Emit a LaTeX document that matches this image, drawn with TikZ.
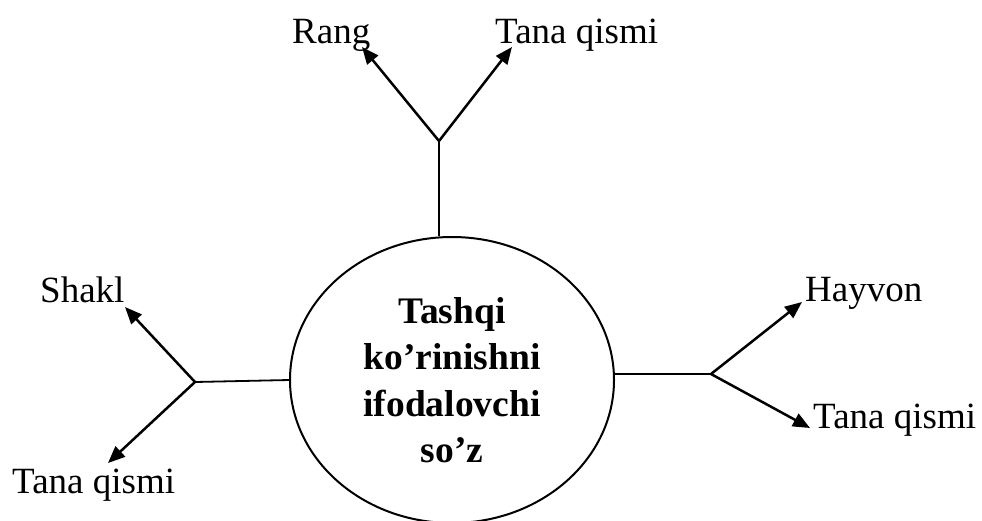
\documentclass[tikz,border=0pt]{standalone}
\usepackage{fontspec}
\setmainfont{Liberation Serif}
\usetikzlibrary{arrows.meta,shapes.geometric}
\tikzset{
  word/.style={inner sep=0pt,anchor=base west,font=\fontsize{37}{44}\selectfont},
  arr/.style={line width=2.5pt,-{Triangle[length=17pt,width=14pt]}},
  stem/.style={line width=1.8pt}
}
\begin{document}
\begin{tikzpicture}[x=1pt,y=-1pt]
  \useasboundingbox (0,0) rectangle (982,520);
  \clip (0,0) rectangle (982,520);
  \node[draw,ellipse,line width=2pt,minimum width=324pt,minimum height=286pt,
    align=center,font=\fontsize{37.5}{46.5}\selectfont\bfseries] (soz) at (452,380)
    {Tashqi\\ko’rinishni\\ifodalovchi\\so’z};
  % branch points
  \coordinate (jt) at (439,141);
  \coordinate (jl) at (195,382);
  \coordinate (jr) at (711,374);
  % labels
  \node[word] (rang) at (292,43) {Rang};
  \node[word] (tana1) at (495,43) {Tana qismi};
  \node[word] (shakl) at (40,302) {Shakl};
  \node[word] (tana2) at (12,493) {Tana qismi};
  \node[word] (hayvon) at (805,301) {Hayvon};
  \node[word] (tana3) at (813,428) {Tana qismi};
  % stems
  \draw[stem] (jt |- soz.north) -- (jt);
  \draw[stem] (soz.west) -- (jl);
  \draw[stem] (jr -| soz.east) -- (jr);
  % arrows
  \draw[arr] (jt) -- (362,47);
  \draw[arr] (jt) -- (512,47);
  \draw[arr] (jl) -- (125,307);
  \draw[arr] (jl) -- (108,463);
  \draw[arr] (jr) -- (802,302);
  \draw[arr] (jr) -- (810,428);
\end{tikzpicture}
\end{document}
